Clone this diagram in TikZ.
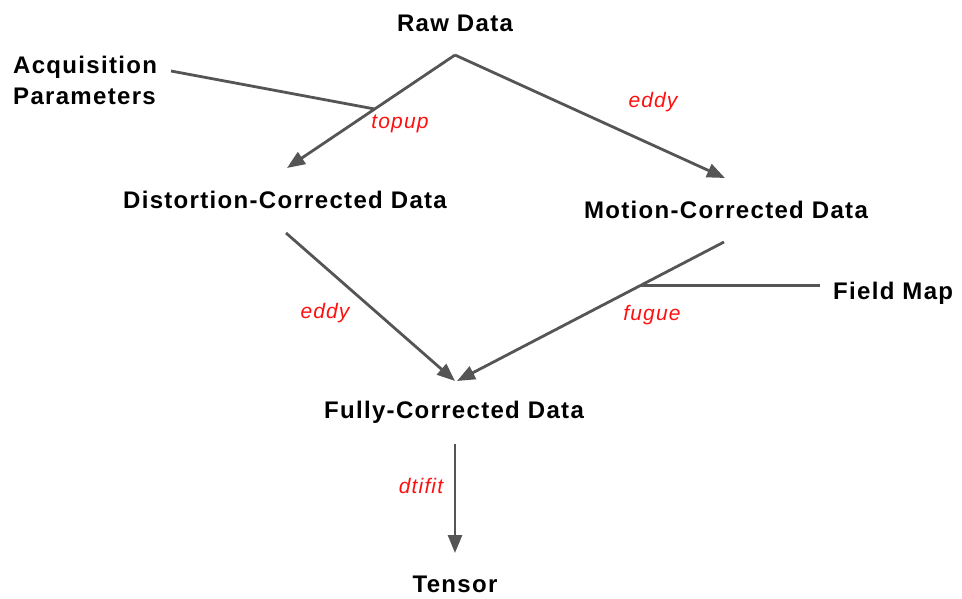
\documentclass[tikz,border=0pt]{standalone}
\usepackage{fontspec}
\setmainfont{Liberation Sans}
\newfontfamily\lblfont[LetterSpace=5.5]{Liberation Sans}
\usetikzlibrary{arrows.meta,calc}
\definecolor{linegray}{HTML}{555555}
\definecolor{lblred}{HTML}{FF1010}
\tikzset{
  box/.style={inner sep=0pt, anchor=base, font=\lblfont\fontsize{24}{29}\selectfont\bfseries},
  tool/.style={inner sep=0pt, anchor=base, text=lblred, font=\lblfont\fontsize{21}{25}\selectfont\itshape},
  conn/.style={draw=linegray, line width=2.8pt},
  flow/.style={conn, -{Triangle[length=18pt,width=14pt]}}
}
\begin{document}
\begin{tikzpicture}[x=1pt,y=-1pt]
\useasboundingbox (0,0) rectangle (962,598);
% texts
\node[box] (raw) at (455,31) {Raw Data};
\node[box, anchor=base west] (acq1) at (13,73) {Acquisition};
\node[box, anchor=base west] (acq2) at (13,104) {Parameters};
\node[box] (dist) at (285,208) {Distortion-Corrected Data};
\node[box] (mot) at (726,218) {Motion-Corrected Data};
\node[box, anchor=base west] (field) at (833,299) {Field Map};
\node[box] (full) at (454,418) {Fully-Corrected Data};
\node[box] (tens) at (455,592) {Tensor};
% tool labels
\node[tool] (topup) at (400,128) {topup};
\node[tool] (eddy1) at (653,107) {eddy};
\node[tool] (eddy2) at (325,318) {eddy};
\node[tool] (fugue) at (652,320) {fugue};
\node[tool] (dtifit) at (421,493) {dtifit};
% connector end points
\coordinate (apex) at (455,55);
\coordinate (distin) at (287,168);
\coordinate (motin) at (725,178);
\coordinate (distout) at (286,233);
\coordinate (motout) at (724,242);
\coordinate (fullinL) at (455,381);
\coordinate (fullinR) at (457,381);
\coordinate (fullout) at (455,444);
\coordinate (tensin) at (455,553);
\coordinate (acqend) at (171,71);
\coordinate (j1) at ($(apex)!0.478!(distin)$);
\coordinate (j2) at ($(motout)!0.315!(fullinR)$);
\coordinate (fieldend) at ($(j2)+(180,0)$);
% connectors
\draw[flow] (apex) -- (distin);
\draw[flow] (apex) -- (motin);
\draw[flow] (distout) -- (fullinL);
\draw[flow] (motout) -- (fullinR);
\draw[flow] (fullout) -- (tensin);
\draw[conn] (acqend) -- (j1);
\draw[conn] (fieldend) -- (j2);
\end{tikzpicture}
\end{document}
